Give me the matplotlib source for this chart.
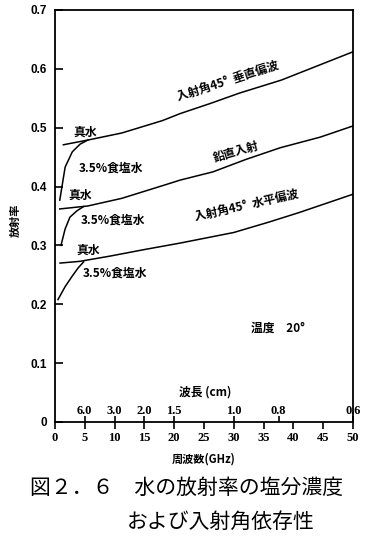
import matplotlib
matplotlib.use("Agg")
import matplotlib.pyplot as plt

JP = ['Noto Sans CJK JP', 'DejaVu Sans']

# 入射角45° 垂直偏波
v45_water_f = [1.4, 5.5, 11.2, 18, 21, 26, 31, 38, 44.5, 50]
v45_water_e = [0.471, 0.479, 0.491, 0.512, 0.524, 0.541, 0.559, 0.581, 0.607, 0.629]
v45_salt_f = [0.8, 1.7, 2.9, 4.2, 5.5]
v45_salt_e = [0.377, 0.433, 0.459, 0.472, 0.479]

# 鉛直入射
nadir_water_f = [0.8, 5.5, 11.2, 18.5, 21, 26.5, 32, 37.8, 44.5, 50]
nadir_water_e = [0.362, 0.367, 0.380, 0.403, 0.411, 0.425, 0.446, 0.466, 0.484, 0.503]
nadir_salt_f = [1.0, 1.7, 2.5, 3.7, 4.8]
nadir_salt_e = [0.300, 0.328, 0.348, 0.359, 0.366]

# 入射角45° 水平偏波
h45_water_f = [0.85, 4.2, 9.3, 15, 21, 26, 30, 36, 41, 50]
h45_water_e = [0.270, 0.273, 0.282, 0.293, 0.304, 0.314, 0.322, 0.340, 0.356, 0.387]
h45_salt_f = [0.5, 1.7, 2.9, 3.9, 4.8]
h45_salt_e = [0.208, 0.230, 0.248, 0.262, 0.272]

freq_ticks = [0, 5, 10, 15, 20, 25, 30, 35, 40, 45, 50]
wave_labels = ['6.0', '3.0', '2.0', '1.5', '1.0', '0.8', '0.6']
wave_cm = [6.0, 3.0, 2.0, 1.5, 1.0, 0.8, 0.6]
y_ticks = [0, 0.1, 0.2, 0.3, 0.4, 0.5, 0.6, 0.7]
y_labels = ['0', '0.1', '0.2', '0.3', '0.4', '0.5', '0.6', '0.7']

W, H = 368, 542
fig = plt.figure(figsize=(W / 100, H / 100), dpi=100)
ax = fig.add_axes([55 / W, 1 - 422 / H, (353 - 55) / W, (422 - 10) / H])

for f, e in [(v45_water_f, v45_water_e), (v45_salt_f, v45_salt_e),
             (nadir_water_f, nadir_water_e), (nadir_salt_f, nadir_salt_e),
             (h45_water_f, h45_water_e), (h45_salt_f, h45_salt_e)]:
    ax.plot(f, e, color='black', linewidth=1.1)

ax.set_xlim(0, 50)
ax.set_ylim(0, 0.7)
for s in ax.spines.values():
    s.set_linewidth(1.3)

ax.set_xticks(freq_ticks)
ax.set_xticklabels([str(t) for t in freq_ticks], family='Liberation Serif',
                   fontweight='bold', fontsize=9)
ax.tick_params(axis='x', which='major', direction='out', length=5, width=1.2, pad=2)

# wavelength scale (cm) on the same axis line, lambda = 30 / f
ax.xaxis.remove_overlapping_locs = False
wave_pos = [30.0 / w for w in wave_cm]
ax.set_xticks(wave_pos, minor=True)
ax.set_xticklabels(wave_labels, minor=True, family='Liberation Serif',
                   fontweight='bold', fontsize=9)
ax.tick_params(axis='x', which='minor', direction='in', length=4, width=1.2, pad=-12)

ax.set_yticks(y_ticks)
ax.set_yticklabels(y_labels, family='Liberation Sans', fontweight='bold', fontsize=8.5)
ax.tick_params(axis='y', direction='in', length=6, width=1.2, pad=6)

ax.set_xlabel('周波数(GHz)', family=JP, fontweight='bold', fontsize=8, labelpad=6)
fig.text(15 / W, 1 - 220 / H, '放射率', family=JP, fontweight='bold', fontsize=8,
         rotation=90, ha='center', va='center')

lab = dict(family=JP, fontweight='bold', fontsize=8.5, ha='center', va='center')
ax.text(5.0, 0.493, '真水', **lab)
ax.text(9.4, 0.432, '3.5%食塩水', **lab)
ax.text(29.0, 0.578, '入射角45°  垂直偏波', rotation=18, **lab)
ax.text(4.2, 0.386, '真水', **lab)
ax.text(9.7, 0.343, '3.5%食塩水', **lab)
ax.text(30.4, 0.459, '鉛直入射', rotation=16, **lab)
ax.text(5.5, 0.292, '真水', **lab)
ax.text(10.0, 0.253, '3.5%食塩水', **lab)
ax.text(32.2, 0.366, '入射角45°  水平偏波', rotation=13, **lab)
ax.text(37.4, 0.160, '温度　20°', **lab)
ax.text(25.2, 0.051, '波長 (cm)', **lab)

fig.text(30 / W, 1 - 488 / H, '図２．６　水の放射率の塩分濃度', family=JP,
         fontsize=15, ha='left', va='center')
fig.text(127 / W, 1 - 522 / H, 'および入射角依存性', family=JP,
         fontsize=15, ha='left', va='center')

fig.savefig('out.png', dpi=100)
